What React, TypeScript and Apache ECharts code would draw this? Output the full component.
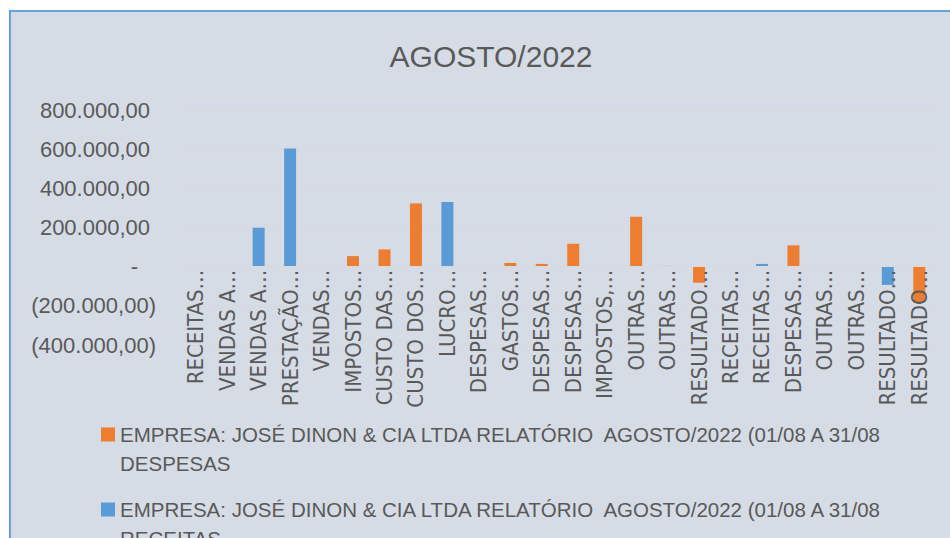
import React, { useEffect, useRef } from 'react';
import * as echarts from 'echarts';

const titleText = 'AGOSTO/2022';

const categories = [
  'RECEITAS…', 'VENDAS A…', 'VENDAS A…', 'PRESTAÇÃO…', 'VENDAS…', 'IMPOSTOS…',
  'CUSTO DAS…', 'CUSTO DOS…', 'LUCRO…', 'DESPESAS…', 'GASTOS…', 'DESPESAS…',
  'DESPESAS…', 'IMPOSTOS,…', 'OUTRAS…', 'OUTRAS…', 'RESULTADO…', 'RECEITAS…',
  'RECEITAS…', 'DESPESAS…', 'OUTRAS…', 'OUTRAS…', 'RESULTADO…', 'RESULTADO…',
];

const despesas = [
  null, null, null, null, 1500, 54000,
  88000, 323000, null, null, 19000, 14000,
  117000, null, 255000, null, -82000, null,
  null, 109000, null, 1500, null, -180000,
];

const receitas = [
  null, null, 199000, 604000, null, null,
  null, null, 330000, null, null, null,
  null, null, null, 4000, null, null,
  14000, null, null, null, -93000, null,
];

const yMin = -400000;
const yMax = 800000;
const yInterval = 200000;

const seriesNames = [
  'EMPRESA: JOSÉ DINON & CIA LTDA RELATÓRIO  AGOSTO/2022 (01/08 A 31/08\nDESPESAS',
  'EMPRESA: JOSÉ DINON & CIA LTDA RELATÓRIO  AGOSTO/2022 (01/08 A 31/08\nRECEITAS',
];

const ORANGE = '#ed7d31';
const BLUE = '#5b9bd5';
const TEXT = '#595959';
const GRID = '#d9d9d9';
const SANS = "'Liberation Sans', Arial, sans-serif";
const NARROW = "'Liberation Sans Narrow', 'DejaVu Sans Condensed', 'Liberation Sans', sans-serif";

const GRID_TOP = 110;
const GRID_BOTTOM_Y = 345;

function fmtBR(v: number): string {
  const s = Math.abs(v).toFixed(2);
  const [i, d] = s.split('.');
  return i.replace(/\B(?=(\d{3})+(?!\d))/g, '.') + ',' + d;
}

export default function App() {
  const ref = useRef<HTMLDivElement>(null);

  useEffect(() => {
    if (!ref.current) return;
    const chart = echarts.init(ref.current, undefined, { renderer: 'svg' });
    const labelBase = { fontSize: 22, color: TEXT, fontFamily: SANS };
    const plotH = GRID_BOTTOM_Y - GRID_TOP;
    const zeroOffset = ((0 - yMin) / (yMax - yMin)) * plotH;
    chart.setOption({
      animation: false,
      backgroundColor: 'transparent',
      title: {
        text: titleText,
        left: 486,
        top: 36,
        textAlign: 'center',
        textStyle: { fontSize: 30, fontWeight: 'normal', color: TEXT, fontFamily: SANS },
      },
      legend: {
        orient: 'vertical',
        left: 101,
        top: 420,
        height: 400,
        padding: 0,
        itemGap: 17,
        itemWidth: 14,
        itemHeight: 43,
        icon: 'path://M0,0L14,0L14,14L0,14ZM0,43L14,43',
        selectedMode: false,
        textStyle: { fontSize: 20.5, lineHeight: 29, color: TEXT, fontFamily: SANS },
        data: [seriesNames[0], seriesNames[1]],
      },
      grid: { left: 180, right: 15, top: GRID_TOP, bottom: 538 - GRID_BOTTOM_Y, containLabel: false, outerBoundsMode: 'none' },
      xAxis: {
        type: 'category',
        data: categories,
        position: 'bottom',
        offset: -zeroOffset,
        z: 5,
        axisLine: { onZero: false, lineStyle: { color: GRID, width: 1 } },
        axisTick: { show: false },
        splitLine: { show: false },
        axisLabel: {
          interval: 0,
          rotate: 90,
          margin: 3,
          fontSize: 22,
          color: TEXT,
          fontFamily: NARROW,
        },
      },
      yAxis: {
        type: 'value',
        min: yMin,
        max: yMax,
        interval: yInterval,
        axisLine: { show: false },
        axisTick: { show: false },
        splitLine: { lineStyle: { color: GRID, width: 1 } },
        axisLabel: {
          margin: 24,
          ...labelBase,
          formatter: (v: number) =>
            v === 0 ? '{z|-}' : v < 0 ? '{n|(' + fmtBR(v) + ')}' : '{p|' + fmtBR(v) + '}',
          rich: {
            p: { ...labelBase, padding: [0, 6, 0, 0] },
            n: { ...labelBase },
            z: { ...labelBase, padding: [0, 18, 0, 0] },
          },
        },
      },
      series: [
        {
          name: seriesNames[0],
          type: 'bar',
          data: despesas,
          barWidth: 12,
          barGap: '-100%',
          itemStyle: { color: ORANGE },
        },
        {
          name: seriesNames[1],
          type: 'bar',
          data: receitas,
          barWidth: 12,
          barGap: '-100%',
          itemStyle: { color: BLUE },
        },
      ],
    });
    return () => chart.dispose();
  }, []);

  return (
    <div style={{ position: 'absolute', left: 0, top: 0, width: 950, height: 538, background: '#ffffff', overflow: 'hidden' }}>
      <div
        style={{
          position: 'absolute',
          left: 9,
          top: 10,
          width: 950,
          height: 538,
          background: '#d6dce5',
          borderLeft: '2px solid #6a9fd8',
          borderTop: '2px solid #6a9fd8',
        }}
      />
      <div ref={ref} style={{ position: 'absolute', left: 0, top: 0, width: 950, height: 538 }} />
    </div>
  );
}
